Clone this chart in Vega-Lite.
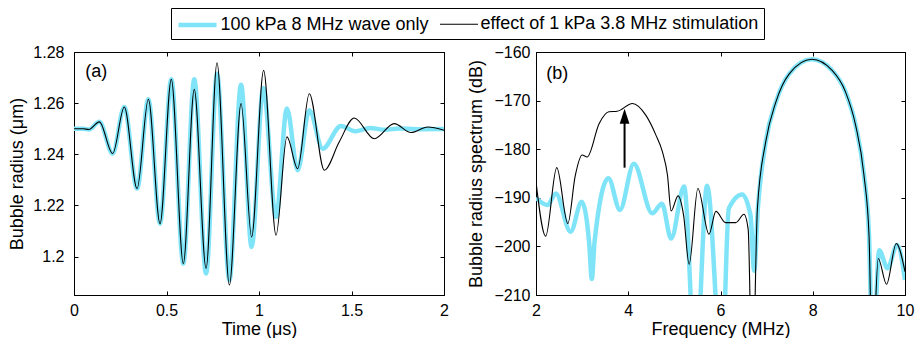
{
  "$schema": "https://vega.github.io/schema/vega-lite/v6.json",
  "padding": {"left": 8, "top": 7, "right": 0, "bottom": 0},
  "background": "white",
  "datasets": {
    "ts": [
      {"s": "a", "t": 0, "r": 1.25}, {"s": "a", "t": 0.05, "r": 1.25}, {"s": "a", "t": 0.08, "r": 1.2497},
      {"s": "a", "t": 0.137, "r": 1.2527}, {"s": "a", "t": 0.209, "r": 1.2403}, {"s": "a", "t": 0.272, "r": 1.2585},
      {"s": "a", "t": 0.341, "r": 1.2266}, {"s": "a", "t": 0.402, "r": 1.2615}, {"s": "a", "t": 0.465, "r": 1.2129},
      {"s": "a", "t": 0.526, "r": 1.2693}, {"s": "a", "t": 0.591, "r": 1.1973}, {"s": "a", "t": 0.65, "r": 1.2693},
      {"s": "a", "t": 0.714, "r": 1.1934}, {"s": "a", "t": 0.773, "r": 1.2715}, {"s": "a", "t": 0.84, "r": 1.1908},
      {"s": "a", "t": 0.903, "r": 1.2672}, {"s": "a", "t": 0.96, "r": 1.2038}, {"s": "a", "t": 1.023, "r": 1.2659},
      {"s": "a", "t": 1.092, "r": 1.2155}, {"s": "a", "t": 1.151, "r": 1.2579}, {"s": "a", "t": 1.209, "r": 1.2338},
      {"s": "a", "t": 1.272, "r": 1.2572}, {"s": "a", "t": 1.344, "r": 1.2422}, {"s": "a", "t": 1.443, "r": 1.2511},
      {"s": "a", "t": 1.52, "r": 1.249}, {"s": "a", "t": 1.6, "r": 1.2503}, {"s": "a", "t": 1.68, "r": 1.2496},
      {"s": "a", "t": 1.76, "r": 1.2501}, {"s": "a", "t": 1.85, "r": 1.2498}, {"s": "a", "t": 2.0, "r": 1.2499},
      {"s": "b", "t": 0, "r": 1.25}, {"s": "b", "t": 0.05, "r": 1.25}, {"s": "b", "t": 0.08, "r": 1.2497},
      {"s": "b", "t": 0.137, "r": 1.2527}, {"s": "b", "t": 0.209, "r": 1.2403}, {"s": "b", "t": 0.272, "r": 1.2585},
      {"s": "b", "t": 0.341, "r": 1.2266}, {"s": "b", "t": 0.402, "r": 1.2615}, {"s": "b", "t": 0.465, "r": 1.2129},
      {"s": "b", "t": 0.526, "r": 1.2693}, {"s": "b", "t": 0.591, "r": 1.1973}, {"s": "b", "t": 0.65, "r": 1.2654},
      {"s": "b", "t": 0.714, "r": 1.1954}, {"s": "b", "t": 0.773, "r": 1.2758}, {"s": "b", "t": 0.84, "r": 1.1889},
      {"s": "b", "t": 0.903, "r": 1.2598}, {"s": "b", "t": 0.96, "r": 1.2077}, {"s": "b", "t": 1.025, "r": 1.2728},
      {"s": "b", "t": 1.092, "r": 1.2084}, {"s": "b", "t": 1.151, "r": 1.2468}, {"s": "b", "t": 1.209, "r": 1.2344},
      {"s": "b", "t": 1.272, "r": 1.2637}, {"s": "b", "t": 1.353, "r": 1.2338}, {"s": "b", "t": 1.434, "r": 1.2449},
      {"s": "b", "t": 1.515, "r": 1.2542}, {"s": "b", "t": 1.623, "r": 1.2461}, {"s": "b", "t": 1.731, "r": 1.252},
      {"s": "b", "t": 1.822, "r": 1.2485}, {"s": "b", "t": 1.912, "r": 1.2507}, {"s": "b", "t": 2.0, "r": 1.2494}
    ],
    "spec": [
      {"s": "a", "f": 2.0, "db": -190.0}, {"s": "a", "f": 2.25, "db": -191.5}, {"s": "a", "f": 2.43, "db": -189.1},
      {"s": "a", "f": 2.75, "db": -197.0}, {"s": "a", "f": 2.99, "db": -190.8}, {"s": "a", "f": 3.15, "db": -199.0},
      {"s": "a", "f": 3.21, "db": -206.7}, {"s": "a", "f": 3.27, "db": -199.0}, {"s": "a", "f": 3.57, "db": -186.0},
      {"s": "a", "f": 3.82, "db": -192.5}, {"s": "a", "f": 4.12, "db": -183.0}, {"s": "a", "f": 4.52, "db": -193.2},
      {"s": "a", "f": 4.73, "db": -191.2}, {"s": "a", "f": 4.93, "db": -198.4}, {"s": "a", "f": 5.21, "db": -187.7},
      {"s": "a", "f": 5.46, "db": -225}, {"s": "a", "f": 5.71, "db": -187.5}, {"s": "a", "f": 6.03, "db": -225},
      {"s": "a", "f": 6.18, "db": -192.2}, {"s": "a", "f": 6.47, "db": -189.3}, {"s": "a", "f": 6.65, "db": -193.6},
      {"s": "a", "f": 6.73, "db": -205.0}, {"s": "a", "f": 6.81, "db": -192.2}, {"s": "a", "f": 6.98, "db": -178.5},
      {"s": "a", "f": 7.2, "db": -170.3}, {"s": "a", "f": 7.49, "db": -164.5}, {"s": "a", "f": 7.98, "db": -161.5},
      {"s": "a", "f": 8.42, "db": -163.8}, {"s": "a", "f": 8.71, "db": -168.2}, {"s": "a", "f": 8.93, "db": -175.1},
      {"s": "a", "f": 9.11, "db": -185.3}, {"s": "a", "f": 9.22, "db": -197.7}, {"s": "a", "f": 9.3, "db": -225},
      {"s": "a", "f": 9.44, "db": -200.8}, {"s": "a", "f": 9.62, "db": -204.5}, {"s": "a", "f": 9.83, "db": -199.7},
      {"s": "a", "f": 10.0, "db": -206.9},
      {"s": "b", "f": 2.0, "db": -186.7}, {"s": "b", "f": 2.21, "db": -197.9}, {"s": "b", "f": 2.45, "db": -183.8},
      {"s": "b", "f": 2.69, "db": -195.3}, {"s": "b", "f": 2.85, "db": -185.5}, {"s": "b", "f": 3.0, "db": -181.2},
      {"s": "b", "f": 3.11, "db": -181.6}, {"s": "b", "f": 3.37, "db": -174.7}, {"s": "b", "f": 3.58, "db": -172.3},
      {"s": "b", "f": 3.76, "db": -172.2}, {"s": "b", "f": 4.09, "db": -170.6}, {"s": "b", "f": 4.38, "db": -173.0},
      {"s": "b", "f": 4.6, "db": -177.1}, {"s": "b", "f": 4.74, "db": -180.5}, {"s": "b", "f": 4.85, "db": -185.3},
      {"s": "b", "f": 4.93, "db": -192.7}, {"s": "b", "f": 5.08, "db": -189.6}, {"s": "b", "f": 5.2, "db": -193.6},
      {"s": "b", "f": 5.32, "db": -203.7}, {"s": "b", "f": 5.51, "db": -188.1}, {"s": "b", "f": 5.75, "db": -197.5},
      {"s": "b", "f": 5.9, "db": -192.8}, {"s": "b", "f": 6.11, "db": -195.1}, {"s": "b", "f": 6.33, "db": -195.1},
      {"s": "b", "f": 6.51, "db": -193.4}, {"s": "b", "f": 6.6, "db": -196.5}, {"s": "b", "f": 6.69, "db": -230},
      {"s": "b", "f": 6.8, "db": -192.2}, {"s": "b", "f": 6.98, "db": -178.5}, {"s": "b", "f": 7.2, "db": -170.3},
      {"s": "b", "f": 7.49, "db": -164.5}, {"s": "b", "f": 7.98, "db": -161.5}, {"s": "b", "f": 8.42, "db": -163.8},
      {"s": "b", "f": 8.71, "db": -168.2}, {"s": "b", "f": 8.93, "db": -175.1}, {"s": "b", "f": 9.11, "db": -185.3},
      {"s": "b", "f": 9.22, "db": -197.7}, {"s": "b", "f": 9.29, "db": -225}, {"s": "b", "f": 9.42, "db": -202.5},
      {"s": "b", "f": 9.6, "db": -207.8}, {"s": "b", "f": 9.81, "db": -199.4}, {"s": "b", "f": 10.0, "db": -205.2}
    ]
  },
  "hconcat": [
    {
      "width": 370,
      "height": 243,
      "layer": [
        {
          "data": {"name": "ts"},
          "mark": {"type": "line", "interpolate": "monotone", "clip": true},
          "encoding": {
            "x": {"field": "t", "type": "quantitative", "scale": {"domain": [0, 2], "nice": false, "zero": false},
                  "axis": {"orient": "bottom", "values": [0, 0.5, 1, 1.5, 2], "format": "~g", "title": "Time (μs)", "labelPadding": 11, "titlePadding": 2}},
            "y": {"field": "r", "type": "quantitative", "scale": {"domain": [1.185, 1.28], "nice": false, "zero": false},
                  "axis": {"orient": "left", "values": [1.2, 1.22, 1.24, 1.26, 1.28], "format": "~g", "title": "Bubble radius (μm)", "labelPadding": 14, "titlePadding": 6}},
            "color": {"field": "s", "type": "nominal",
                      "scale": {"domain": ["a", "b"], "range": ["#80e4f8", "#000000"]},
                      "legend": {"title": null, "orient": "none", "legendX": 97, "legendY": -44, "direction": "horizontal",
                                 "symbolType": "M-2,0L2,0", "symbolSize": 361, "symbolOffset": 9.5, "labelFontSize": 18, "labelFont": "Liberation Sans", "labelColor": "black", "labelLimit": 500,
                                 "strokeColor": "black", "fillColor": "white", "padding": 5, "columnPadding": 8, "labelOffset": 11,
                                 "labelExpr": "datum.label == 'a' ? '100 kPa 8 MHz wave only' : 'effect of 1 kPa 3.8 MHz stimulation'"}},
            "strokeWidth": {"field": "s", "type": "nominal",
                            "scale": {"domain": ["a", "b"], "range": [4.5, 1.1]},
                            "legend": {"title": null, "orient": "none", "legendX": 97, "legendY": -44, "direction": "horizontal",
                                       "symbolType": "M-2,0L2,0", "symbolSize": 361, "symbolOffset": 9.5, "labelFontSize": 18, "labelFont": "Liberation Sans", "labelColor": "black", "labelLimit": 500,
                                       "strokeColor": "black", "fillColor": "white", "padding": 5, "columnPadding": 8, "labelOffset": 11,
                                       "labelExpr": "datum.label == 'a' ? '100 kPa 8 MHz wave only' : 'effect of 1 kPa 3.8 MHz stimulation'"}}
          }
        },
        {
          "data": {"values": [{"t": 0.12, "r": 1.2722, "lab": "(a)"}]},
          "mark": {"type": "text", "fontSize": 18, "font": "Liberation Sans", "color": "black", "align": "center", "baseline": "middle"},
          "encoding": {
            "x": {"field": "t", "type": "quantitative", "axis": {"orient": "top", "labels": false, "title": null, "values": [0, 0.5, 1, 1.5, 2]}},
            "y": {"field": "r", "type": "quantitative", "axis": {"orient": "right", "labels": false, "title": null, "values": [1.2, 1.22, 1.24, 1.26, 1.28]}},
            "text": {"field": "lab"}
          }
        }
      ],
      "resolve": {"axis": {"x": "independent", "y": "independent"}}
    },
    {
      "width": 369,
      "height": 243,
      "layer": [
        {
          "data": {"name": "spec"},
          "mark": {"type": "line", "interpolate": "monotone", "clip": true},
          "encoding": {
            "x": {"field": "f", "type": "quantitative", "scale": {"domain": [2, 10], "nice": false, "zero": false},
                  "axis": {"orient": "bottom", "values": [2, 4, 6, 8, 10], "title": "Frequency (MHz)", "labelPadding": 11, "titlePadding": 2}},
            "y": {"field": "db", "type": "quantitative", "scale": {"domain": [-210, -160], "nice": false, "zero": false},
                  "axis": {"orient": "left", "values": [-210, -200, -190, -180, -170, -160], "title": "Bubble radius spectrum (dB)", "labelPadding": 10, "titlePadding": 8}},
            "color": {"field": "s", "type": "nominal", "scale": {"domain": ["a", "b"], "range": ["#80e4f8", "#000000"]}},
            "strokeWidth": {"field": "s", "type": "nominal", "scale": {"domain": ["a", "b"], "range": [4.5, 1.1]}}
          }
        },
        {
          "data": {"values": [{"f": 3.92, "db": -183.8, "db2": -174.5}]},
          "mark": {"type": "rule", "color": "black", "strokeWidth": 2},
          "encoding": {
            "x": {"field": "f", "type": "quantitative", "axis": null},
            "y": {"field": "db", "type": "quantitative", "axis": null},
            "y2": {"field": "db2"}
          }
        },
        {
          "data": {"values": [{"f": 3.92, "db": -173.2}]},
          "mark": {"type": "point", "shape": "M0,-1L0.65,1L-0.65,1Z", "size": 225, "filled": true, "color": "black", "opacity": 1},
          "encoding": {
            "x": {"field": "f", "type": "quantitative", "axis": null},
            "y": {"field": "db", "type": "quantitative", "axis": null}
          }
        },
        {
          "data": {"values": [{"f": 2.46, "db": -164.5, "lab": "(b)"}]},
          "mark": {"type": "text", "fontSize": 18, "font": "Liberation Sans", "color": "black", "align": "center", "baseline": "middle"},
          "encoding": {
            "x": {"field": "f", "type": "quantitative", "axis": {"orient": "top", "labels": false, "title": null, "values": [2, 4, 6, 8, 10]}},
            "y": {"field": "db", "type": "quantitative", "axis": {"orient": "right", "labels": false, "title": null, "values": [-210, -200, -190, -180, -170, -160]}},
            "text": {"field": "lab"}
          }
        }
      ],
      "resolve": {"axis": {"x": "independent", "y": "independent"}}
    }
  ],
  "spacing": 18,
  "config": {
    "font": "Liberation Sans",
    "view": {"stroke": "black", "strokeWidth": 1},
    "axis": {
      "grid": false, "domainColor": "black", "domainWidth": 1, "tickColor": "black", "tickWidth": 1, "tickSize": -4,
      "labelColor": "black", "titleColor": "black", "labelFont": "Liberation Sans", "titleFont": "Liberation Sans",
      "labelFontSize": 16, "titleFontSize": 18, "titleFontWeight": "normal",
      "labelFlush": false, "labelOverlap": false, "labelBound": false
    }
  }
}
